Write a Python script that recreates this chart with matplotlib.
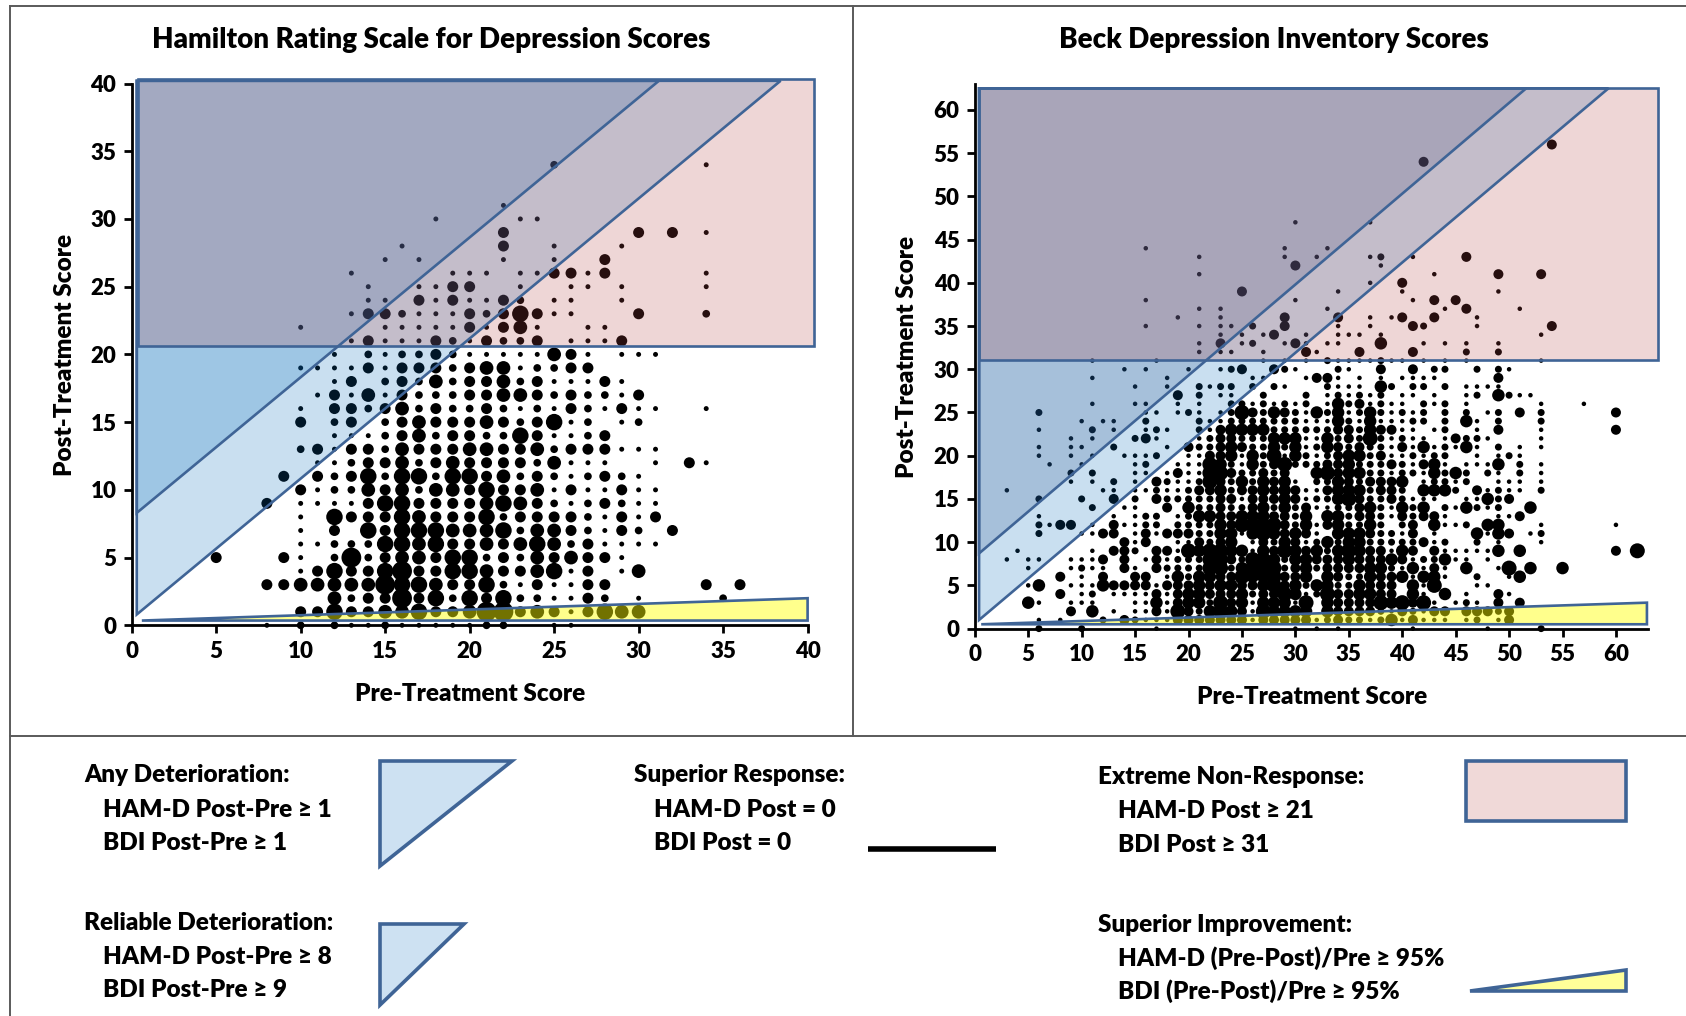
import numpy as np
import matplotlib
matplotlib.use("Agg")
import matplotlib.pyplot as plt
from matplotlib.patches import Polygon

plt.rcParams['font.family'] = ['Lato', 'DejaVu Sans']
plt.rcParams['font.weight'] = 'heavy'

# dot size level per score pair: one string per post score (0, 1, 2 ...),
# one char per pre score, '.' = no dot. Spaces only to keep count of 5s.
ham_rows = [
    "..... ...1. 2.211 21111 122.. 11... ..... .....",
    "..... ..... 33533 44533 46634 31354 4.... .....",
    "..... ..... ..423 36352 53522 1132. 1.... 2....",
    "..... ...33 44444 65543 35213 1133. ....3 .3...",
    "..... ..... 13533 56335 54334 513.1 4.... .....",
    "..... 3...3 1.262 34435 52324 34331 ..... .....",
    "..... ..... 11222 55453 34345 42311 11... .....",
    "..... ..... 1.3.5 35554 44524 43213 2.3.. .....",
    "..... ..... 1.533 35433 35233 33213 13... .....",
    "..... ...3. 11113 55333 34543 21232 11... .....",
    "..... ..... 31224 34244 35334 13113 11... .....",
    "..... ....3 .3235 25525 53423 21232 1.... .....",
    "..... ..... .1123 34234 33332 4111. .1.31 .....",
    "..... ..... 23133 24333 44334 23331 11... .....",
    "..... ..... ..111 23423 32253 1123. ..... .....",
    "..... ..... 3.23. 23433 34323 512.1 2.... .....",
    "..... ..... 1.332 34232 23212 13213 11..1 .....",
    "..... ..... .1314 13222 33443 23221 3.... .....",
    "..... ..... ..13. 23242 33423 11131 ..... .....",
    "..... ..... 11113 13332 34412 233.. ..... .....",
    "..... ..... ..1.2 12232 11111 431.1 11... .....",
    "..... ..... ...13 11132 13223 .1113 ..... .....",
    "..... ..... 1.... 11111 31341 ..11. ..... .....",
    "..... ..... ...13 32111 32353 11... 3...2 .....",
    "..... ..... ....1 1.313 1132. 11..1 ..... .....",
    "..... ..... ....1 ..113 3..1. .11.1 ....1 .....",
    "..... ..... ...1. ....1 11.11 3313. ....1 .....",
    "..... ..... ..... 1.1.. ..1.. 1..3. ..... .....",
    "..... ..... ..... .1... ..3.. 1...1 ..... .....",
    "..... ..... ..... ..... ..3.. ..... 3.3.1 .....",
    "..... ..... ..... ...1. ...11 ..... ..... .....",
    "..... ..... ..... ..... ..1.. ..... ..... .....",
    "..... ..... ..... ..... ..... ..... ..... .....",
    "..... ..... ..... ..... ..... ..... ..... .....",
    "..... ..... ..... ..... ..... 2.... ....1 .....",
]

bdi_rows = [
    "..... .2... 2.... ..1.. ..... ..... 1.1.1 ..... .1... ...1. ...2. ..... ...",
    "..... .1.1. ..2.3 21113 33333 31333 33123 22124 13111 .12.1 3.... ..... ...",
    "..... ....3 .4.1. 11315 32454 31544 44.43 33321 32133 .3332 3.... ..... ...",
    "..... 41..1 11... 11413 44253 41444 15.43 33354 5351. 121.3 .3... ..... ...",
    "..... ...3. 12.11 11313 44333 42335 41253 34433 .41.4 .1..3 1.... ..... ...",
    "..... 14..1 11433 33133 34344 33453 42442 24333 .415. ..11. ..... ..... ...",
    "..... ...3. 1.3.. 33.14 24433 54453 34.43 22433 41441 ..2.. 14... ..... ...",
    "..... 1...1 211.3 1.322 22552 45652 34233 33442 14131 .4..1 5.4.. 4.... ...",
    "...1. 11..1 113.3 .1312 22553 25542 44333 43334 31224 11.1. ..... ..... ...",
    "....1 ..... .1.33 2.331 54554 41435 43424 54331 43.31 11114 .4... ..... 3.5",
    "..... ..... ....3 13..1 13234 .1324 31242 44222 22312 ..2.1 ...1. ..... ...",
    "..... .2... 1133. 13133 32244 14543 431.4 44322 13.1. ..414 3.12. ..... ...",
    "..... .2133 .1.31 122.2 22243 55553 24134 2242. 23.41 12.44 ...1. ..... 1..",
    "..... .1... ...1. 122.1 24433 44433 24.44 23321 32331 ....1 13... ..... ...",
    "..... ..... .2..1 1..3. 42232 23424 23112 23421 424.2 14212 ..4.. ..... ...",
    "..... .2... 2..3. 2.322 22233 13334 31224 53223 2111. .1142 3.... ..... ...",
    "...1. ..... ..11. 11211 23342 33434 31134 44233 2.444 2.312 11.2. ..... ...",
    "..... ....1 .1.2. 1.321 12532 42434 1.224 32333 4.122 12..1 11.1. ..... ...",
    "..... ....2 .2... 11.13 11553 22323 ..453 44221 22142 42.21 .2.1. ..... ...",
    "..... ..1.. 1.... 12..1 11542 14235 22233 42223 21341 .1114 .2.1. ..... ...",
    "..... .1..1 .1..1 112.. 11334 14251 42123 44231 12122 ..1.1 21... ..... ...",
    "..... .1..1 1..2. ...1. 32234 32242 41243 23221 31412 141.2 .1.1. ..... ...",
    "..... ....1 .1... 231.. .1233 22244 41142 32521 211.1 3221. ...1. ..... ...",
    "..... .1... .2.1. .121. .2134 44422 22223 32433 11.12 ..1.3 ...1. ..... 3..",
    "..... ..... 1.11. .2... .2112 22222 21114 21411 122.2 .41.2 ...2. ..... ...",
    "..... .2... ..... .11.1 21.12 53243 21424 12421 212.2 .2.12 .3.2. ..... 3..",
    "..... ..... .1... 11..1 .1..2 21212 12.14 23121 1.212 .1... ...1. ..1.. ...",
    "..... ..... ..... ....3 .2.11 ..2.. .2.12 1212. 11.1. .12.4 211.. ..... ...",
    "..... ..... ..... 1..1. .2122 .2.21 ...21 11.42 .22.2 .1111 ..... ..... ...",
    "..... ..... .1... ...1. ..... .11.. .1331 .1.1. 1111. ....3 ..... ..... ...",
    "..... ..... ....1 .1... 1..12 3..32 1...2 1..3. .3.22 ..2.2 1.... ..... ...",
    "..... ..... .1... ..1.. ..... ..1.1 .1.21 11121 1.1.1 .1... ...1. ..... ...",
    "..... ..... ..... ..... .1.11 ..1.. .31.. .3... .3... .2..2 ..... ..... ...",
    "..... ..... ..... ..... .1.3. 12..1 31.11 ...4. ..1.1 .1..1 ..... ..... ...",
    "..... ..... ..... ..... ...1. 1.13. .1..1 11.1. ..... ..... ...1. ..... ...",
    "..... ..... ..... .1... .1.11 .2..3 ....1 ..1.. .32.. ..1.. ....3 ..... ...",
    "..... ..... ..... ....1 ...1. ....3 ....3 ..1.1 3..3. ..1.. ..... ..... ...",
    "..... ..... ..... ..... .1.1. ..... ...1. ..... ....1 .3... .1... ..... ...",
    "..... ..... ..... .1... ..... ..... 1.... ..... .1.3. 3.... ..... ..... ...",
    "..... ..... ..... ..... ..... 3.... ....1 ..... 1.... ....1 ..... ..... ...",
    "..... ..... ..... ..... ..... ..... ..... ..1.. 3.... ..... ..... ..... ...",
    "..... ..... ..... ..... .1... ..... ..... ..... ...1. ....3 ...3. ..... ...",
    "..... ..... ..... ..... ..... ..... 3.... ...1. ..... ..... ..... ..... ...",
    "..... ..... ..... ..... .1... ....1 ..1.. ..12. .1... .3... ..... ..... ...",
    "..... ..... ..... .1... ..... ....1 ...1. ..... ..... ..... ..... ..... ...",
    "..... ..... ..... ..... ..... ..... ..... ..... ..... ..... ..... ..... ...",
    "..... ..... ..... ..... ..... ..... ..... ..... ..... ..... ..... ..... ...",
    "..... ..... ..... ..... ..... ..... 1.... ..1.. ..... ..... ..... ..... ...",
    "..... ..... ..... ..... ..... ..... ..... ..... ..... ..... ..... ..... ...",
    "..... ..... ..... ..... ..... ..... ..... ..... ..... ..... ..... ..... ...",
    "..... ..... ..... ..... ..... ..... ..... ..... ..... ..... ..... ..... ...",
    "..... ..... ..... ..... ..... ..... ..... ..... ..... ..... ..... ..... ...",
    "..... ..... ..... ..... ..... ..... ..... ..... ..... ..... ..... ..... ...",
    "..... ..... ..... ..... ..... ..... ..... ..... ..... ..... ..... ..... ...",
    "..... ..... ..... ..... ..... ..... ..... ..... ..3.. ..... ..... ..... ...",
    "..... ..... ..... ..... ..... ..... ..... ..... ..... ..... ..... ..... ...",
    "..... ..... ..... ..... ..... ..... ..... ..... ..... ..... ....3 ..... ...",
]

ham_ticks_x = [0, 5, 10, 15, 20, 25, 30, 35, 40]
ham_ticks_y = [0, 5, 10, 15, 20, 25, 30, 35, 40]
bdi_ticks_x = [0, 5, 10, 15, 20, 25, 30, 35, 40, 45, 50, 55, 60]
bdi_ticks_y = [0, 5, 10, 15, 20, 25, 30, 35, 40, 45, 50, 55, 60]

# dot diameter in pixels for size levels 1-6
diam_px = [0, 4.5, 7, 10, 12.5, 15, 18]

EDGE = '#3f6496'
W, H = 1686, 1016


def read_rows(rows):
    xs, ys, levels = [], [], []
    for post, row in enumerate(rows):
        for pre, c in enumerate(row.replace(' ', '')):
            if c != '.':
                xs.append(pre)
                ys.append(post)
                levels.append(int(c))
    return np.array(xs), np.array(ys), np.array(levels)


def make_axes(box):
    # box is left, top, right, bottom in pixels
    l, t, r, b = box
    ax = fig.add_axes([l / W, 1 - b / H, (r - l) / W, (b - t) / H], facecolor='none')
    ax.spines['top'].set_visible(False)
    ax.spines['right'].set_visible(False)
    ax.spines['left'].set_linewidth(2)
    ax.spines['bottom'].set_linewidth(2)
    ax.tick_params(length=6, width=2, labelsize=16, pad=5)
    return ax


def draw_panel(ax, rows, xmax, ymax, xticks, yticks, scale, regions):
    xs, ys, levels = read_rows(rows)
    sizes = (np.array(diam_px)[levels] * scale * 72 / 100) ** 2
    ax.scatter(xs, ys, s=sizes, c='black', linewidths=0, zorder=2, clip_on=False)
    ax.set_xlim(0, xmax)
    ax.set_ylim(0, ymax)
    ax.set_xticks(xticks)
    ax.set_yticks(yticks)
    for pts, color, alpha in regions:
        ax.add_patch(Polygon(pts, closed=True, facecolor=color, alpha=alpha,
                             edgecolor='none', zorder=3, clip_on=False))
        ax.add_patch(Polygon(pts, closed=True, facecolor='none', edgecolor=EDGE,
                             linewidth=1.9, zorder=4, clip_on=False))


fig = plt.figure(figsize=(W / 100, H / 100), dpi=100, facecolor='white')

ham_ax = make_axes((131.7, 83.5, 807.6, 625.3))
draw_panel(ham_ax, ham_rows, 40, 40, ham_ticks_x, ham_ticks_y, 1.1, [
    ([(0.3, 0.8), (38.4, 40.2), (0.3, 40.2)], (0.0, 0.41, 0.73), 0.21),
    ([(0.3, 8.3), (31.2, 40.2), (0.3, 40.2)], (0.0, 0.41, 0.73), 0.21),
    ([(0.4, 20.6), (40.35, 20.6), (40.35, 40.3), (0.4, 40.3)], (0.71, 0.27, 0.27), 0.22),
    ([(0.6, 0.35), (40, 2), (40, 0.35)], (1.0, 1.0, 0.0), 0.45),
])

bdi_ax = make_axes((974.8, 84, 1648, 628.6))
draw_panel(bdi_ax, bdi_rows, 63, 63, bdi_ticks_x, bdi_ticks_y, 1.0, [
    ([(0.4, 1.0), (59.3, 62.5), (0.4, 62.5)], (0.0, 0.41, 0.73), 0.21),
    ([(0.4, 8.7), (51.6, 62.5), (0.4, 62.5)], (0.18, 0.33, 0.55), 0.22),
    ([(0.4, 31.1), (63.9, 31.1), (63.9, 62.5), (0.4, 62.5)], (0.71, 0.27, 0.27), 0.22),
    ([(0.6, 0.5), (62.9, 3), (62.9, 0.5)], (1.0, 1.0, 0.0), 0.45),
])

# page level layer in pixel coordinates: frame, titles, legend
page = fig.add_axes([0, 0, 1, 1], facecolor='none')
page.set_xlim(0, W)
page.set_ylim(H, 0)
page.axis('off')

for xx, yy in [((10, 10), (6, H)), ((10, W), (6, 6)), ((10, W), (736, 736)), ((853, 853), (6, 736))]:
    page.plot(xx, yy, color='#5a5a5a', lw=1.4)

page.text(431, 40, 'Hamilton Rating Scale for Depression Scores', ha='center', va='center', fontsize=20)
page.text(1273.7, 40, 'Beck Depression Inventory Scores', ha='center', va='center', fontsize=20)
page.text(470, 694, 'Pre-Treatment Score', ha='center', va='center', fontsize=17.5)
page.text(1312, 697, 'Pre-Treatment Score', ha='center', va='center', fontsize=17.5)
page.text(64.5, 355, 'Post-Treatment Score', ha='center', va='center', rotation=90, fontsize=17.5)
page.text(907.5, 357, 'Post-Treatment Score', ha='center', va='center', rotation=90, fontsize=17.5)

legend_text = [
    (84, 775, 'Any Deterioration:'), (103, 810, 'HAM-D Post-Pre ≥ 1'), (103, 843, 'BDI Post-Pre ≥ 1'),
    (84, 923, 'Reliable Deterioration:'), (103, 957, 'HAM-D Post-Pre ≥ 8'), (103, 990, 'BDI Post-Pre ≥ 9'),
    (633.5, 775, 'Superior Response:'), (654, 810, 'HAM-D Post = 0'), (654, 843, 'BDI Post = 0'),
    (1098, 777, 'Extreme Non-Response:'), (1118, 811, 'HAM-D Post ≥ 21'), (1118, 845, 'BDI Post ≥ 31'),
    (1098, 925, 'Superior Improvement:'), (1118, 958, 'HAM-D (Pre-Post)/Pre ≥ 95%'),
    (1118, 991, 'BDI (Pre-Post)/Pre ≥ 95%'),
]
for tx, ty, s in legend_text:
    page.text(tx, ty, s, ha='left', va='center', fontsize=17.5)

page.add_patch(Polygon([(380, 761), (512, 761), (380, 866)], facecolor='#cde1f2', edgecolor=EDGE, lw=2.6))
page.add_patch(Polygon([(380, 924), (464, 924), (380, 1005)], facecolor='#cde1f2', edgecolor=EDGE, lw=2.6))
page.add_patch(Polygon([(1466, 761), (1626, 761), (1626, 821), (1466, 821)], facecolor='#f0d9d8', edgecolor=EDGE, lw=2.6))
page.add_patch(Polygon([(1470, 991), (1626, 970), (1626, 991)], facecolor='#ffff99', edgecolor=EDGE, lw=2.6))
page.plot([868, 996], [849, 849], color='black', lw=4, solid_capstyle='butt')

fig.savefig('out.png', dpi=100)
